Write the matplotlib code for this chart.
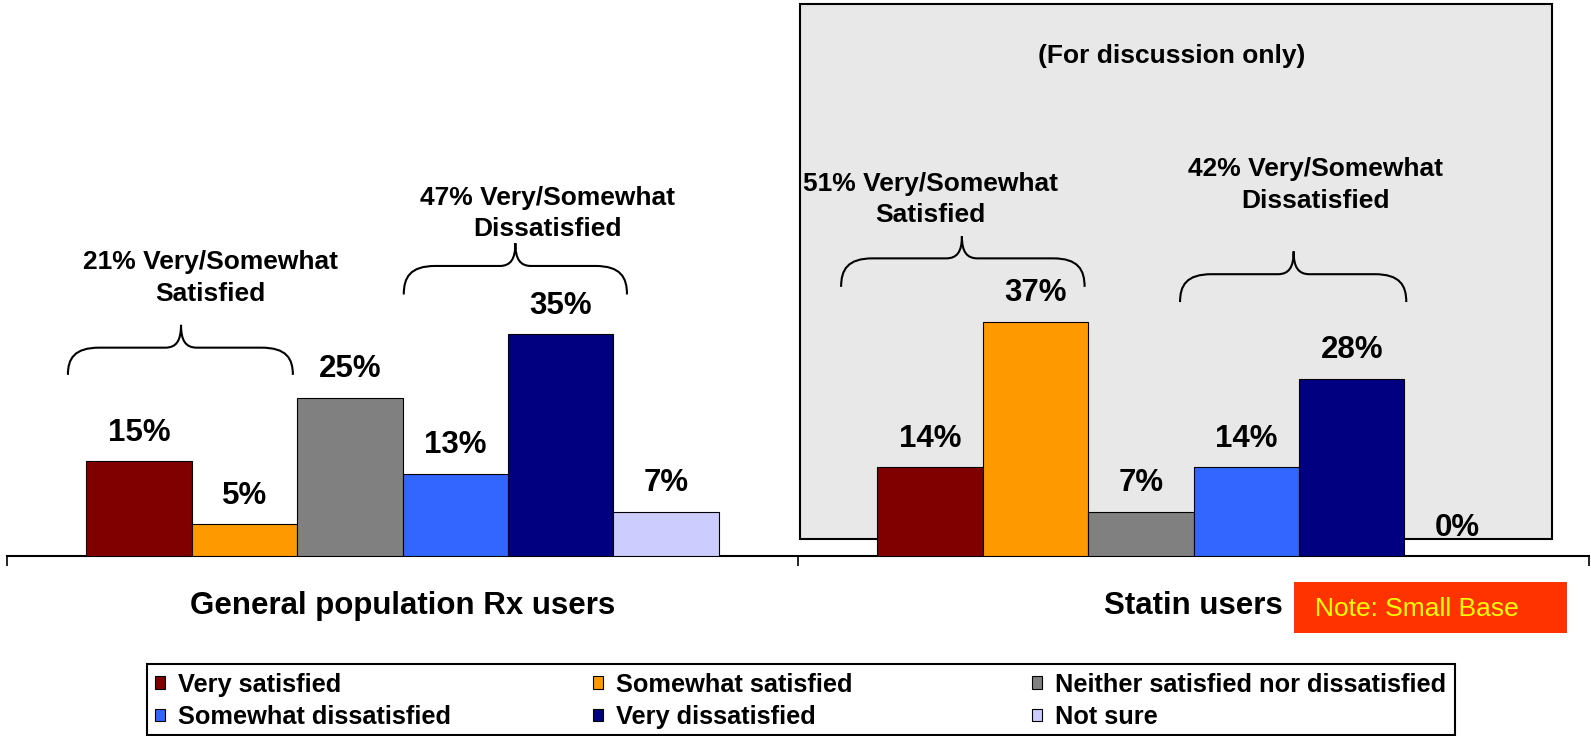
import matplotlib
matplotlib.use('Agg')
import matplotlib.pyplot as plt
from matplotlib.patches import Rectangle, Patch, PathPatch
from matplotlib.path import Path
import numpy as np

plt.rcParams['font.family'] = ['Liberation Sans', 'DejaVu Sans']

# ---- data ----
groups = ['General population Rx users', 'Statin users']
series = ['Very satisfied', 'Somewhat satisfied', 'Neither satisfied nor dissatisfied',
          'Somewhat dissatisfied', 'Very dissatisfied', 'Not sure']
very_satisfied = [15, 14]
somewhat_satisfied = [5, 37]
neither = [25, 7]
somewhat_dissatisfied = [13, 14]
very_dissatisfied = [35, 28]
not_sure = [7, 0]
values = [very_satisfied, somewhat_satisfied, neither,
          somewhat_dissatisfied, very_dissatisfied, not_sure]
colors = ['#800000', '#FF9900', '#808080', '#3366FF', '#000080', '#CCCCFF']

bracket_labels = ['21% Very/Somewhat\nSatisfied', '47% Very/Somewhat\nDissatisfied',
                  '51% Very/Somewhat\nSatisfied', '42% Very/Somewhat\nDissatisfied']
# layout of brackets: (x_left, x_right, x_tip, y_end, y_mid, y_tip, text_x, text_y)
bracket_geom = [(-0.423, -0.1386, -0.280, 28.6, 32.9, 36.5, -0.243, 43.9),
                (0.0016, 0.2838, 0.1427, 41.3, 45.8, 49.4, 0.1838, 54.1),
                (0.5545, 0.8623, 0.7072, 42.5, 47.0, 50.5, 0.6674, 56.3),
                (0.983, 1.269, 1.1266, 40.1, 44.5, 48.1, 1.1547, 58.6)]

W, H = 1591, 736
fig = plt.figure(figsize=(W / 100, H / 100), dpi=100)
ax = fig.add_axes([7 / W, 180 / H, 1582 / W, 556 / H])
ax.set_facecolor('none')

# grey "for discussion" panel
ax.add_patch(Rectangle((0.502, 2.72), 0.9517, 84.5, facecolor='#E8E8E8',
                       edgecolor='black', linewidth=1.5, zorder=1))
ax.text(0.9727, 78.9, '(For discussion only)', ha='center', va='center',
        fontsize=19, fontweight='bold', zorder=4)

n = len(series)
w = 0.8 / n
xg = np.arange(len(groups))
for i, (vals, c) in enumerate(zip(values, colors)):
    bars = ax.bar(xg + (i - (n - 1) / 2) * w, vals, w, color=c,
                  edgecolor='black', linewidth=0.8, zorder=3, label=series[i])
    for rect, v in zip(bars, vals):
        ax.annotate(f'{v}%', (rect.get_x() + rect.get_width() / 2, v),
                    xytext=(0, 20.5), textcoords='offset points',
                    ha='center', va='center', fontsize=22.5, fontweight='bold', zorder=4)

# braces
for lab, (x0, x1, xm, yb, yh, yt, tx, ty) in zip(bracket_labels, bracket_geom):
    r = 0.04
    r2 = 0.02
    verts = [(x0, yb),
             (x0, yb + 0.6 * (yh - yb)), (x0 + 0.2 * r, yh), (x0 + r, yh),
             (xm - r2, yh),
             (xm - 0.3 * r2, yh), (xm, yh + 0.3 * (yt - yh)), (xm, yt),
             (xm, yh + 0.3 * (yt - yh)), (xm + 0.3 * r2, yh), (xm + r2, yh),
             (x1 - r, yh),
             (x1 - 0.2 * r, yh), (x1, yb + 0.6 * (yh - yb)), (x1, yb)]
    codes = [Path.MOVETO,
             Path.CURVE4, Path.CURVE4, Path.CURVE4,
             Path.LINETO,
             Path.CURVE4, Path.CURVE4, Path.CURVE4,
             Path.CURVE4, Path.CURVE4, Path.CURVE4,
             Path.LINETO,
             Path.CURVE4, Path.CURVE4, Path.CURVE4]
    ax.add_patch(PathPatch(Path(verts, codes), facecolor='none', edgecolor='black',
                           linewidth=1.5, zorder=4))
    ax.text(tx, ty, lab, ha='center', va='center', fontsize=19, fontweight='bold',
            linespacing=1.4, zorder=4)

ax.set_xlim(-0.5, 1.5)
ax.set_ylim(0, 87.8)
for s in ['left', 'right', 'top']:
    ax.spines[s].set_visible(False)
ax.spines['bottom'].set_linewidth(1.5)
ax.spines['bottom'].set_color('black')
ax.set_yticks([])
ax.set_xticks(xg, groups, fontsize=22.5, fontweight='bold')
ax.tick_params(axis='x', which='major', length=0, pad=25)
ax.set_xticks([-0.5, 0.5, 1.5], minor=True)
ax.tick_params(axis='x', which='minor', length=7, width=1.2, direction='out')

# legend (3 columns x 2 rows, fixed column starts)
handles = [Patch(facecolor=c, edgecolor='black', linewidth=0.8) for c in colors]
col_x = [155 / W, 593 / W, 1032 / W]
for col in range(3):
    fig.legend(handles=[handles[col], handles[col + 3]],
               labels=[series[col], series[col + 3]],
               loc='center left', bbox_to_anchor=(col_x[col], 35 / H),
               frameon=False, prop={'weight': 'bold', 'size': 18.3},
               handlelength=0.4, handleheight=0.4, handletextpad=0.5,
               labelspacing=0.32, borderpad=0, borderaxespad=0)
fig.add_artist(Rectangle((147 / W, 1.5 / H), (1455 - 147) / W, (735 - 664) / H,
                         transform=fig.transFigure, fill=False,
                         edgecolor='black', linewidth=1.5))

# note box
fig.add_artist(Rectangle((1294 / W, (H - 633) / H), 273 / W, 51 / H,
                         transform=fig.transFigure, facecolor='#FF3300',
                         edgecolor='none'))
fig.text(1315 / W, (H - 609) / H, 'Note: Small Base', color='#FFFF00',
         fontsize=19, ha='left', va='center')

fig.savefig('out.png', dpi=100)
